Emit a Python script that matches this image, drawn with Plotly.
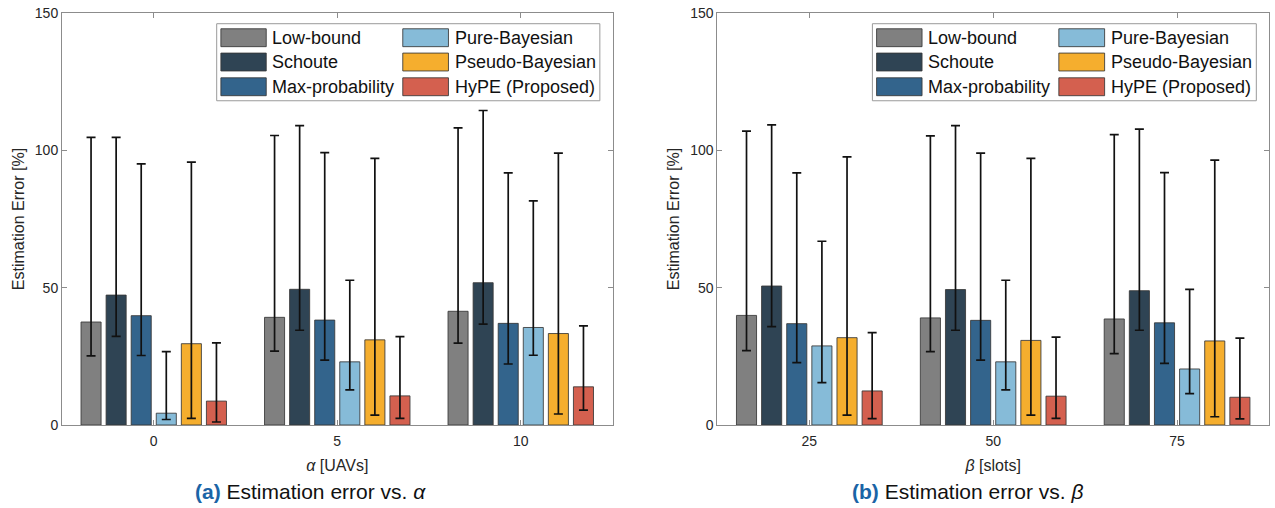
import plotly.graph_objects as go

# ---------------- data ----------------
series_names = ["Low-bound", "Schoute", "Max-probability",
                "Pure-Bayesian", "Pseudo-Bayesian", "HyPE (Proposed)"]
series_colors = ["#808080", "#2f4454", "#33648c", "#86bbd8", "#f5ae2e", "#d4604f"]

cats_a = ["0", "5", "10"]
cats_b = ["25", "50", "75"]
cat_pos = [1, 2, 3]

# panel (a): mean, upper end and lower end of error bar, one row per series
a_mean = [[37.5, 39.2, 41.4],
          [47.3, 49.4, 51.8],
          [39.8, 38.2, 37.0],
          [4.3, 23.0, 35.5],
          [29.6, 31.0, 33.3],
          [8.7, 10.6, 13.9]]
a_upper = [[104.7, 105.4, 108.2],
           [104.7, 109.0, 114.5],
           [95.1, 99.2, 91.8],
           [26.7, 52.7, 81.6],
           [95.7, 97.1, 99.0],
           [29.9, 32.2, 36.1]]
a_lower = [[25.2, 26.9, 29.8],
           [32.3, 34.5, 36.7],
           [25.3, 23.6, 22.2],
           [2.0, 12.8, 25.4],
           [2.4, 3.6, 4.0],
           [1.1, 2.4, 5.4]]

# panel (b)
b_mean = [[39.9, 39.0, 38.6],
          [50.6, 49.3, 48.9],
          [36.9, 38.1, 37.2],
          [28.8, 23.0, 20.4],
          [31.8, 30.8, 30.6],
          [12.4, 10.5, 10.1]]
b_upper = [[107.0, 105.3, 105.7],
           [109.3, 109.0, 107.7],
           [91.8, 99.0, 91.9],
           [66.9, 52.7, 49.4],
           [97.6, 97.1, 96.4],
           [33.6, 32.0, 31.6]]
b_lower = [[27.1, 26.7, 26.0],
           [35.8, 34.5, 34.5],
           [22.7, 23.6, 22.4],
           [15.4, 12.8, 11.4],
           [3.6, 3.6, 3.0],
           [2.3, 2.4, 2.2]]

y_ticks = [0, 50, 100, 150]

# ---------------- figure ----------------
FONT = "Liberation Sans, Arial, sans-serif"
TXT = "#262626"
AXC = "#8c8c8c"

fig = go.Figure()


def add_panel(means, uppers, lowers, xa, ya):
    for i, name in enumerate(series_names):
        m = means[i]
        plus = [u - v for u, v in zip(uppers[i], m)]
        minus = [v - l for v, l in zip(m, lowers[i])]
        fig.add_trace(go.Bar(
            x=cat_pos, y=m, name=name, xaxis=xa, yaxis=ya,
            marker=dict(color=series_colors[i],
                        line=dict(color="rgba(55,55,55,0.85)", width=1)),
            error_y=dict(type="data", symmetric=False, array=plus,
                         arrayminus=minus, color="#111111",
                         thickness=1.7, width=4.5),
            showlegend=False,
            offsetgroup=str(i),
        ))


add_panel(a_mean, a_upper, a_lower, "x", "y")
add_panel(b_mean, b_upper, b_lower, "x2", "y2")

axis_common = dict(showline=True, linecolor=AXC, linewidth=1, mirror="ticks",
                   ticks="inside", ticklen=5, tickcolor=AXC,
                   showgrid=False, zeroline=False,
                   tickfont=dict(family=FONT, size=14, color=TXT))

fig.update_layout(
    width=1275, height=508,
    margin=dict(l=62, r=5, t=11, b=83),
    paper_bgcolor="white", plot_bgcolor="white",
    barmode="group", bargap=0.18, bargroupgap=0.2,
    font=dict(family=FONT, color=TXT),
    xaxis=dict(domain=[0, 0.4561], range=[0.5, 3.5], tickvals=cat_pos,
               ticktext=cats_a, anchor="y", ticklabelstandoff=3,
               title=dict(text="<i>α</i> [UAVs]", standoff=12,
                          font=dict(family=FONT, size=16, color=TXT)),
               **axis_common),
    yaxis=dict(domain=[0, 1], range=[0, 150], tickvals=y_ticks, anchor="x",
               title=dict(text="Estimation Error [%]", standoff=6,
                          font=dict(family=FONT, size=16, color=TXT)),
               **axis_common),
    xaxis2=dict(domain=[0.5430, 1], range=[0.5, 3.5], tickvals=cat_pos,
                ticktext=cats_b, anchor="y2", ticklabelstandoff=3,
                title=dict(text="<i>β</i> [slots]", standoff=12,
                           font=dict(family=FONT, size=16, color=TXT)),
                **axis_common),
    yaxis2=dict(domain=[0, 1], range=[0, 150], tickvals=y_ticks, anchor="x2",
                title=dict(text="Estimation Error [%]", standoff=6,
                           font=dict(family=FONT, size=16, color=TXT)),
                **axis_common),
)

# ---------------- legends (one box per panel, two columns) ----------------
shapes = []
annos = []
col_sw = [(0.2886, 0.371), (0.619, 0.702)]
col_tx = [0.378, 0.710]
row_y = [0.940, 0.881, 0.821]
half_h = 0.0217
for xa, ya in (("x", "y"), ("x2", "y2")):
    xr, yr = xa + " domain", ya + " domain"
    shapes.append(dict(type="rect", xref=xr, yref=yr, x0=0.281, x1=0.977,
                       y0=0.787, y1=0.974, line=dict(color="#9a9a9a", width=1),
                       fillcolor="white", layer="above"))
    for i, name in enumerate(series_names):
        c, r = divmod(i, 3)
        shapes.append(dict(type="rect", xref=xr, yref=yr,
                           x0=col_sw[c][0], x1=col_sw[c][1],
                           y0=row_y[r] - half_h, y1=row_y[r] + half_h,
                           fillcolor=series_colors[i],
                           line=dict(color="rgba(55,55,55,0.85)", width=1),
                           layer="above"))
        annos.append(dict(xref=xr, yref=yr, x=col_tx[c], y=row_y[r],
                          text=name, showarrow=False, xanchor="left",
                          yanchor="middle",
                          font=dict(family=FONT, size=18, color="#111111")))

# ---------------- captions ----------------
BLUE = "#1a64a6"
annos.append(dict(xref="paper", yref="paper", x=0.2061, y=-0.162,
                  text=f"<span style='color:{BLUE}'><b>(a)</b></span> Estimation error vs. <i>α</i>",
                  showarrow=False, xanchor="center", yanchor="middle",
                  font=dict(family=FONT, size=21, color="#111111")))
annos.append(dict(xref="paper", yref="paper", x=0.750, y=-0.162,
                  text=f"<span style='color:{BLUE}'><b>(b)</b></span> Estimation error vs. <i>β</i>",
                  showarrow=False, xanchor="center", yanchor="middle",
                  font=dict(family=FONT, size=21, color="#111111")))

fig.update_layout(shapes=shapes, annotations=annos)

fig.write_html("out.html")
